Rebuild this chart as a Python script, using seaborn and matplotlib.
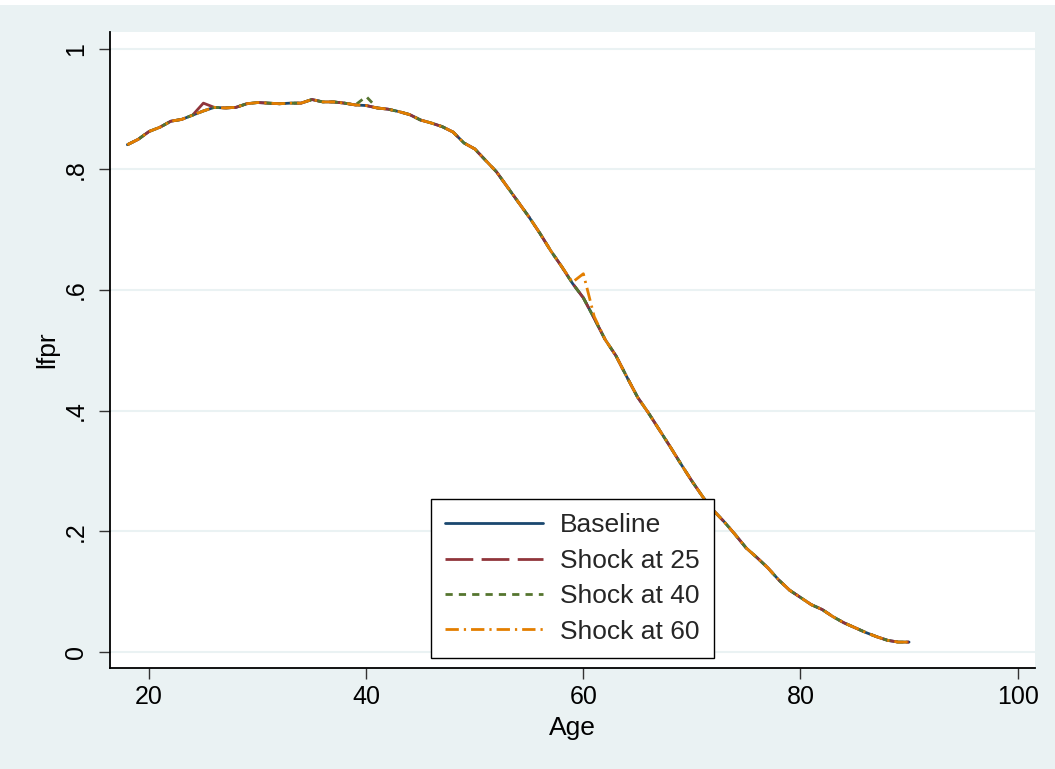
import numpy as np
import pandas as pd
import matplotlib
matplotlib.use("Agg")
import matplotlib.pyplot as plt
from matplotlib.patches import Rectangle
import seaborn as sns

# ages 18..90
age = list(range(18, 91))
baseline = [0.841, 0.850, 0.863, 0.870, 0.880, 0.883, 0.890, 0.897, 0.903, 0.902,
            0.903, 0.909, 0.911, 0.910, 0.909, 0.910, 0.910, 0.916, 0.912, 0.912,
            0.910, 0.907, 0.906, 0.902, 0.900, 0.896, 0.891, 0.882, 0.877, 0.871,
            0.862, 0.844, 0.834, 0.815, 0.796, 0.771, 0.746, 0.721, 0.694, 0.665,
            0.639, 0.611, 0.587, 0.553, 0.518, 0.491, 0.456, 0.422, 0.396, 0.368,
            0.340, 0.311, 0.283, 0.257, 0.234, 0.215, 0.194, 0.172, 0.156, 0.139,
            0.119, 0.102, 0.090, 0.078, 0.070, 0.058, 0.048, 0.040, 0.032, 0.025,
            0.019, 0.016, 0.016]

# where each shock path leaves the baseline (age -> lfpr)
shock25_ages = [25]
shock25_vals = [0.910]
shock40_ages = [40]
shock40_vals = [0.921]
shock60_ages = [59, 60, 61]
shock60_vals = [0.613, 0.627, 0.556]

series_names = ["Baseline", "Shock at 25", "Shock at 40", "Shock at 60"]
colors = ["#1a476f", "#90353b", "#55752f", "#e37e00"]

def with_shock(ages, vals):
    s = pd.Series(baseline, index=age)
    s.loc[ages] = vals
    return s.values

df = pd.concat([
    pd.DataFrame({"Age": age, "lfpr": baseline, "series": "Baseline"}),
    pd.DataFrame({"Age": age, "lfpr": with_shock(shock25_ages, shock25_vals), "series": "Shock at 25"}),
    pd.DataFrame({"Age": age, "lfpr": with_shock(shock40_ages, shock40_vals), "series": "Shock at 40"}),
    pd.DataFrame({"Age": age, "lfpr": with_shock(shock60_ages, shock60_vals), "series": "Shock at 60"}),
], ignore_index=True)

sns.set_theme(style="white")
plt.rcParams['font.family'] = ['Liberation Sans', 'DejaVu Sans']
bg = "#eaf2f3"

fig = plt.figure(figsize=(10.55, 7.69), dpi=100, facecolor=bg)
fig.patches.append(Rectangle((0, 1 - 5 / 769), 1, 5 / 769, transform=fig.transFigure,
                             facecolor="white", edgecolor="none", zorder=0))
ax = fig.add_axes([110 / 1055, 101 / 769, 925 / 1055, 636 / 769])
ax.set_facecolor("white")

lw = 2.0
dashes = {"Baseline": "",
          "Shock at 25": (10.0, 3.0),
          "Shock at 40": (2.6, 2.2),
          "Shock at 60": (4.8, 1.8, 0.8, 1.8)}
sns.lineplot(data=df, x="Age", y="lfpr", hue="series", style="series",
             hue_order=series_names, style_order=series_names,
             palette=dict(zip(series_names, colors)), dashes=dashes,
             linewidth=lw, ax=ax)

ax.set_xlim(16.4, 101.6)
ax.set_ylim(-0.027, 1.028)
ax.set_xticks([20, 40, 60, 80, 100])
ax.set_yticks([0, 0.2, 0.4, 0.6, 0.8, 1.0])
ax.set_yticklabels(["0", ".2", ".4", ".6", ".8", "1"], rotation=90, va="center")
ax.yaxis.grid(True, color=bg, linewidth=1.5)
ax.set_axisbelow(True)
for side in ["top", "right"]:
    ax.spines[side].set_visible(False)
for side in ["left", "bottom"]:
    ax.spines[side].set_color("black")
    ax.spines[side].set_linewidth(1.3)
ax.tick_params(axis="both", direction="out", length=8, width=1, color="#333333",
               labelsize=18, labelcolor="black", bottom=True, left=True)
ax.tick_params(axis="x", pad=4)
ax.tick_params(axis="y", pad=8)
ax.set_xlabel("Age", fontsize=19, color="black", labelpad=5)
ax.set_ylabel("lfpr", fontsize=19, color="black", labelpad=3)

leg = ax.legend(loc="lower left", bbox_to_anchor=(0.347, 0.0157), fontsize=19,
                frameon=True, fancybox=False, edgecolor="black", framealpha=1,
                handlelength=3.7, handletextpad=0.65, labelspacing=0.43,
                borderpad=0.55, borderaxespad=0)
leg.get_frame().set_linewidth(1.0)
for line in leg.get_lines():
    line.set_linewidth(lw)

fig.savefig("out.png", dpi=100, facecolor=fig.get_facecolor())
